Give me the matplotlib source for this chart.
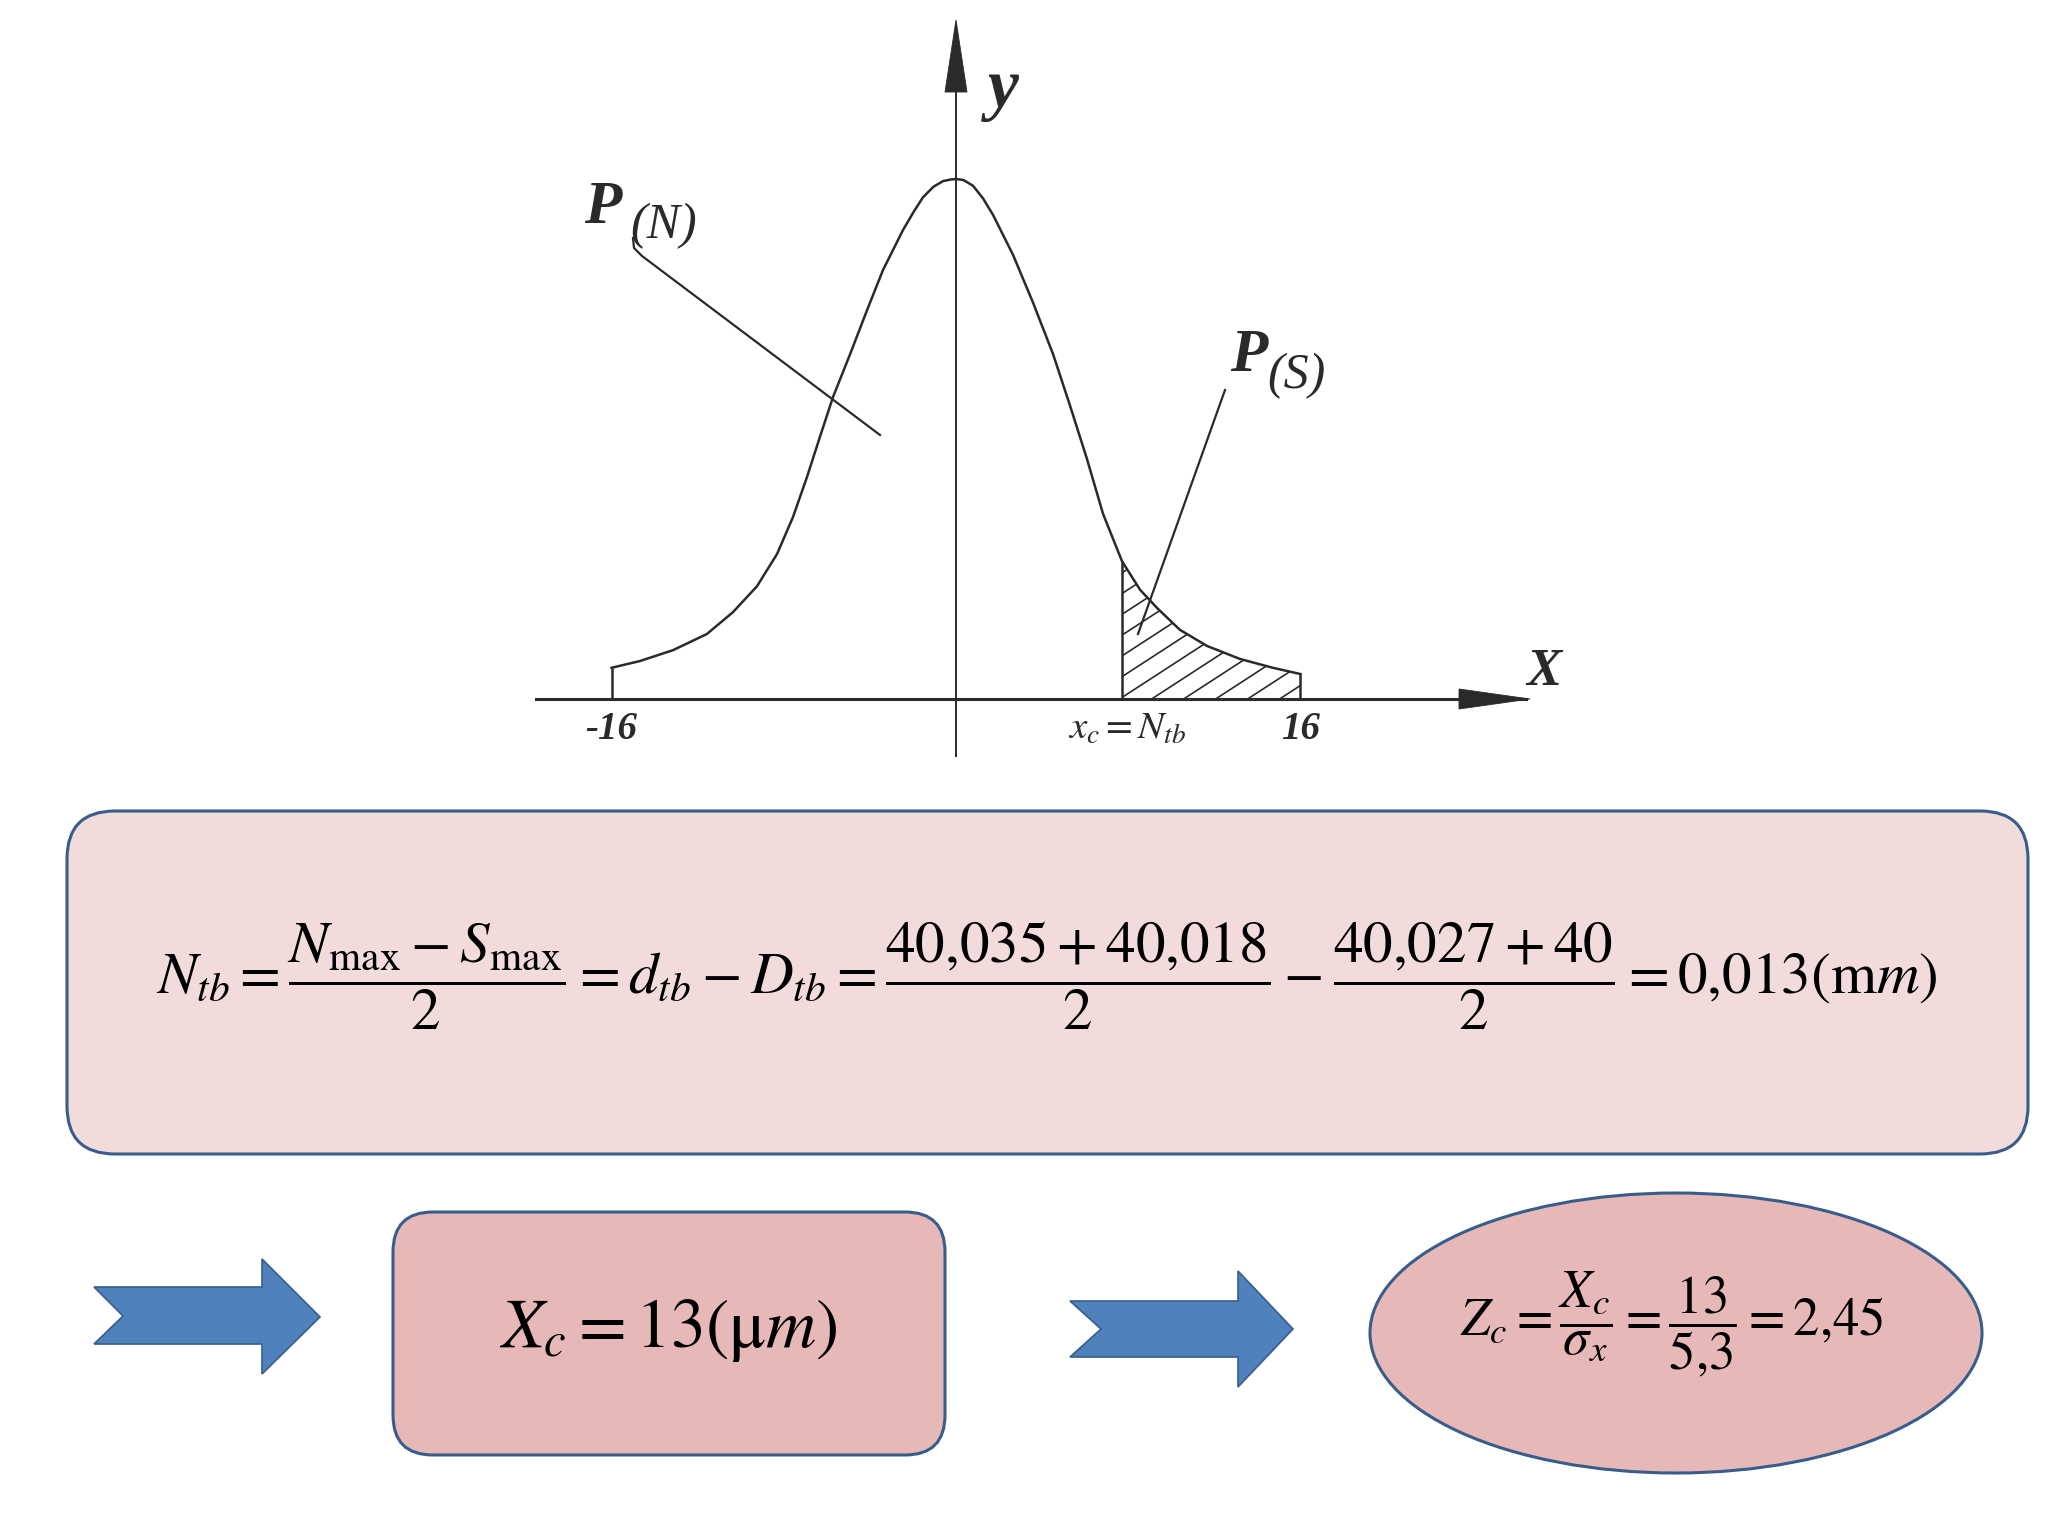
import numpy as np
import matplotlib.pyplot as plt
from matplotlib.patches import FancyBboxPatch, Ellipse, Polygon

plt.rcParams['mathtext.fontset'] = 'stix'
plt.rcParams['font.family'] = ['Liberation Serif', 'DejaVu Serif']

# bell curve (x in diagram units, y relative to the peak)
curve_x = [-16, -14.68, -13.14, -11.57, -10.36, -9.24, -8.31, -7.57, -6.92, -6.32,
           -5.71, -4.92, -4.13, -3.39, -2.46, -1.95, -1.53, -1.05, -0.60, -0.25, 0,
           0.35, 0.79, 1.25, 1.72, 2.65, 3.58, 4.51, 5.29, 6.08, 6.83, 7.71, 8.55,
           9.34, 10.40, 11.66, 13.19, 14.72, 16]
curve_y = [0.060, 0.073, 0.094, 0.125, 0.167, 0.217, 0.279, 0.350, 0.427, 0.504,
           0.581, 0.663, 0.748, 0.825, 0.902, 0.938, 0.965, 0.985, 0.996, 0.999, 1.0,
           0.998, 0.987, 0.963, 0.931, 0.854, 0.762, 0.663, 0.565, 0.462, 0.356, 0.265,
           0.210, 0.175, 0.133, 0.102, 0.077, 0.060, 0.048]
xc = 7.71
tick_pos = [-16, xc, 16]
tick_labels = ['-16', r'$x_c=N_{tb}$', '16']

formula_main = (r'$N_{tb}=\dfrac{N_{\mathrm{max}}-S_{\mathrm{max}}}{2}=d_{tb}-D_{tb}'
                r'=\dfrac{40{,}035+40{,}018}{2}-\dfrac{40{,}027+40}{2}=0{,}013(\mathrm{m}m)$')
formula_xc = r'$X_c=13(\mathrm{\mu}m)$'
formula_zc = r'$Z_c=\dfrac{X_c}{\sigma_x}=\dfrac{13}{5{,}3}=2{,}45$'

W, H = 2048, 1536
fig = plt.figure(figsize=(10.24, 7.68), dpi=200)

# overlay in pixel coordinates for the boxes and arrows
ov = fig.add_axes([0, 0, 1, 1])
ov.set_xlim(0, W)
ov.set_ylim(H, 0)
ov.axis('off')

edge = '#385D8A'
ov.add_patch(FancyBboxPatch((67, 811), 1961, 343, boxstyle='round,pad=0,rounding_size=48',
                            fc='#F2DCDB', ec=edge, lw=1.1))
ov.add_patch(FancyBboxPatch((393, 1212), 552, 243, boxstyle='round,pad=0,rounding_size=40',
                            fc='#E6B9B8', ec=edge, lw=1.1))
ov.add_patch(Ellipse((1676, 1333), 612, 280, fc='#E6B9B8', ec=edge, lw=1.1))
arrow1 = [(94, 1287), (262, 1287), (262, 1259), (320, 1317), (262, 1374), (262, 1344), (94, 1344), (123, 1316)]
arrow2 = [(1070, 1301), (1238, 1301), (1238, 1271), (1293, 1329), (1238, 1387), (1238, 1357), (1070, 1357), (1101, 1329)]
for pts in (arrow1, arrow2):
    ov.add_patch(Polygon(pts, closed=True, fc='#4F81BD', ec=edge, lw=0.6))

ov.text(1047, 976, formula_main, fontsize=21.3, ha='center', va='center')
ov.text(668, 1330, formula_xc, fontsize=25, ha='center', va='center')
ov.text(1672, 1324, formula_zc, fontsize=19, ha='center', va='center')

# axis arrow heads and leader lines
ink = '#2a2a2a'
ov.add_patch(Polygon([(1459, 689), (1530, 699), (1459, 709)], closed=True, fc=ink, ec=ink, lw=0.3))
ov.add_patch(Polygon([(945, 92), (956, 20), (967, 92)], closed=True, fc=ink, ec=ink, lw=0.3))
ov.plot([633, 634, 642, 880], [238, 248, 256, 435], color=ink, lw=0.8)
ov.plot([1225, 1138], [390, 634], color=ink, lw=0.8)

ov.text(603, 208, 'P', fontsize=22, fontweight='bold', style='italic', ha='center', va='center', color=ink)
ov.text(664, 226, '(N)', fontsize=18, style='italic', ha='center', va='center', color=ink)
ov.text(1249, 356, 'P', fontsize=22, fontweight='bold', style='italic', ha='center', va='center', color=ink)
ov.text(1296, 376, '(S)', fontsize=18, style='italic', ha='center', va='center', color=ink)
ov.text(1003, 90, 'y', fontsize=25, fontweight='bold', style='italic', ha='center', va='center', color=ink)
ov.text(1544, 672, 'X', fontsize=19, fontweight='bold', style='italic', ha='center', va='center', color=ink)

# diagram axes, placed so that x=0 / y=0 fall on the drawn axes
x0px, y0px, ux, uy = 956, 699, 21.53, 520
left_px, right_px, top_px, bot_px = 535, 1528, 23, 757
ax = fig.add_axes([left_px / W, 1 - bot_px / H, (right_px - left_px) / W, (bot_px - top_px) / H])
ax.set_xlim((left_px - x0px) / ux, (right_px - x0px) / ux)
ax.set_ylim(-(bot_px - y0px) / uy, (y0px - top_px) / uy)
ax.axis('off')
ax.patch.set_alpha(0)

ax.axhline(0, color=ink, lw=1.1)
ax.axvline(0, color=ink, lw=0.7)
ax.plot(curve_x, curve_y, color=ink, lw=0.9)

cx = np.array(curve_x)
cy = np.array(curve_y)
yc = cy[cx == xc][0]
ax.vlines([cx[0], xc, cx[-1]], 0, [cy[0], yc, cy[-1]], color=ink, lw=0.9)

# hatch of the P(S) region
mask = cx >= xc
hx, hy = cx[mask], cy[mask]
verts = np.column_stack([np.r_[hx, hx[-1], hx[0]], np.r_[hy, 0, 0]])
region = Polygon(verts, closed=True, fill=False, lw=0)
ax.add_patch(region)
slope = np.tan(np.radians(33)) * ux / uy
step = 32 / ux
for s in np.arange(xc - 12, 17, step):
    ln, = ax.plot([s, s + 12], [0, 12 * slope], color=ink, lw=0.6)
    ln.set_clip_path(region)

for pos, lab in zip(tick_pos, tick_labels):
    if lab.startswith('$'):
        ax.text(pos + 0.25, -0.058, lab, fontsize=14, ha='center', va='center', color=ink)
    else:
        ax.text(pos, -0.058, lab, fontsize=14, fontweight='bold', style='italic',
                ha='center', va='center', color=ink)

fig.savefig('out.png', dpi=200)
